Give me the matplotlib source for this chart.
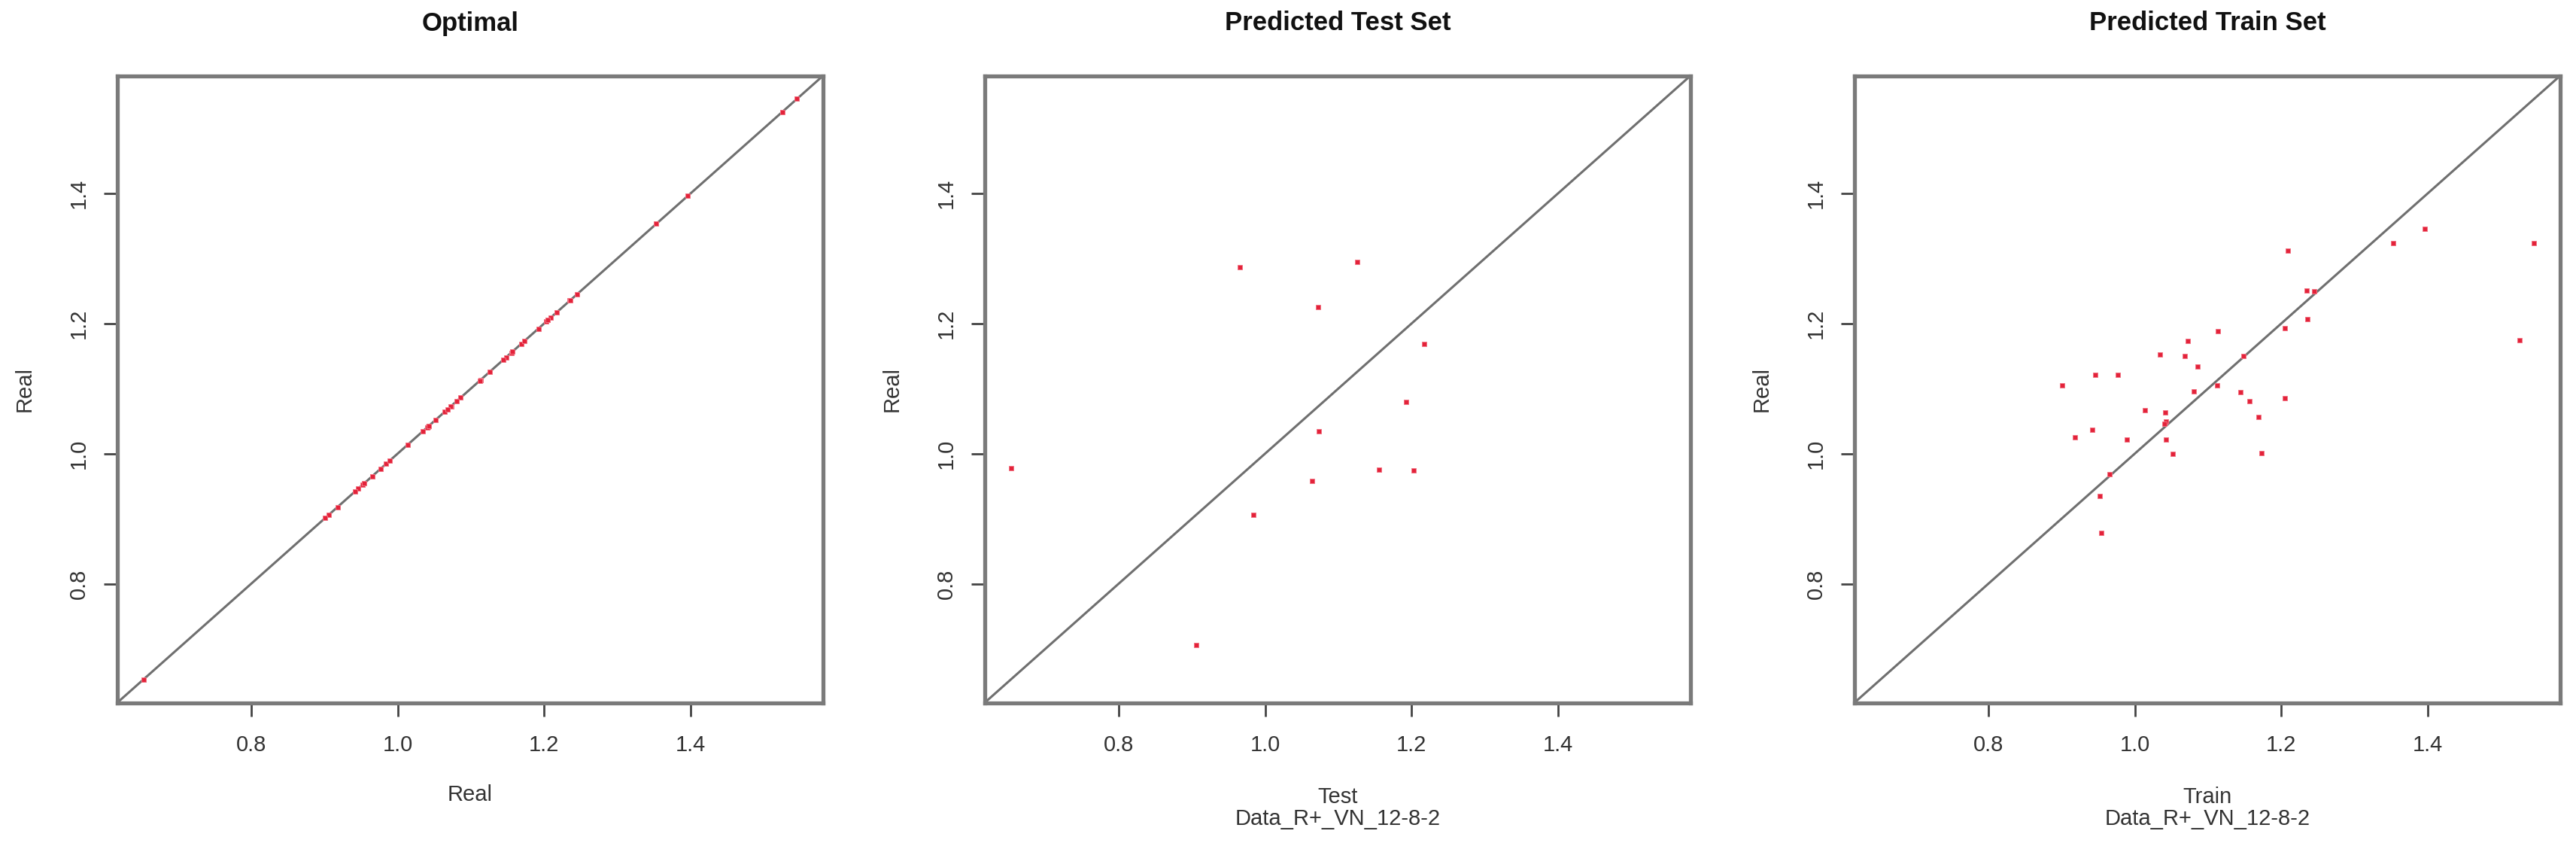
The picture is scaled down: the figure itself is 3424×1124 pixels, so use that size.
import matplotlib
matplotlib.use("Agg")
import matplotlib.pyplot as plt
import numpy as np

plt.rcParams['font.family'] = ['Liberation Sans', 'DejaVu Sans']

# ---- data ----
test_x = [0.653, 0.965, 1.126, 1.072, 1.217, 1.192, 1.073, 1.064, 1.155, 1.203, 0.984, 0.906]
test_y = [0.978, 1.287, 1.295, 1.225, 1.169, 1.079, 1.034, 0.958, 0.975, 0.974, 0.906, 0.706]

train_x = [1.545, 1.525, 1.396, 1.353, 1.209, 1.235, 1.245, 1.236, 1.205, 1.113,
           1.072, 1.034, 1.068, 1.148, 1.086, 0.946, 0.977, 0.901, 1.080, 1.112,
           1.144, 1.157, 1.205, 1.014, 1.041, 1.042, 1.040, 1.169, 0.942, 0.918,
           0.989, 1.042, 1.052, 1.173, 0.965, 0.952, 0.954]
train_y = [1.324, 1.174, 1.345, 1.323, 1.312, 1.251, 1.249, 1.207, 1.193, 1.188,
           1.173, 1.152, 1.150, 1.150, 1.134, 1.121, 1.121, 1.105, 1.096, 1.105,
           1.095, 1.081, 1.085, 1.067, 1.063, 1.049, 1.046, 1.056, 1.037, 1.025,
           1.022, 1.021, 1.000, 1.001, 0.968, 0.935, 0.878]

real_values = test_x + train_x

titles = ["Optimal", "Predicted Test Set", "Predicted Train Set"]
xlabels = ["Real", "Test\nData_R+_VN_12-8-2", "Train\nData_R+_VN_12-8-2"]
ylabel = "Real"
tick_vals = [0.8, 1.0, 1.2, 1.4]
tick_labels = ["0.8", "1.0", "1.2", "1.4"]

panels = [(real_values, real_values), (test_x, test_y), (train_x, train_y)]

# ---- figure ----
W, H = 3424, 1124
fig = plt.figure(figsize=(W / 100, H / 100), dpi=100)

ax_left_px = [156, 1309, 2465]
ax_w_px = 938
ax_top_px, ax_bot_px = 100.6, 933.5
ax_h_px = ax_bot_px - ax_top_px

lo = min(real_values)
hi = max(real_values)
pad = 0.04 * (hi - lo)
lims = (lo - pad, hi + pad)

frame_col = '#7a7a7a'
tick_fs = 21
for i, (xs, ys) in enumerate(panels):
    ax = fig.add_axes([ax_left_px[i] / W, 1 - ax_bot_px / H, ax_w_px / W, ax_h_px / H])
    ax.set_xlim(lims)
    ax.set_ylim(lims)
    ax.axline((lims[0], lims[0]), slope=1, color='#6f6f6f', lw=2.2, zorder=2)
    ax.plot(xs, ys, linestyle='none', marker='s', markersize=4.0,
            markerfacecolor='#e3233a', markeredgecolor='#f27585', markeredgewidth=0.7, zorder=3)
    for s in ax.spines.values():
        s.set_color(frame_col)
        s.set_linewidth(3.8)
    ax.set_xticks(tick_vals)
    ax.set_xticklabels(tick_labels)
    ax.set_yticks(tick_vals)
    ax.set_yticklabels(tick_labels, rotation=90, va='center', ha='right')
    ax.tick_params(axis='both', length=13, width=2.0, color='#444444',
                   labelsize=tick_fs, labelcolor='#333333')
    ax.tick_params(axis='x', pad=17.5)
    ax.tick_params(axis='y', pad=13.7)
    ax.text(0.5, 1 + (ax_top_px - 31) / ax_h_px, titles[i], transform=ax.transAxes,
            ha='center', va='center', fontsize=25, fontweight='bold', color='#111111')
    ax.set_xlabel(xlabels[i], fontsize=tick_fs, color='#333333', linespacing=1.05,
                  va='center')
    nlines = xlabels[i].count("\n") + 1
    center_below = 123 if nlines == 1 else 140
    ax.xaxis.set_label_coords(0.5, -center_below / ax_h_px)
    ax.set_ylabel(ylabel, fontsize=tick_fs, color='#333333', va='center')
    ax.yaxis.set_label_coords(-123 / ax_w_px, 0.5)

fig.savefig("out.png", dpi=100, facecolor='white')
